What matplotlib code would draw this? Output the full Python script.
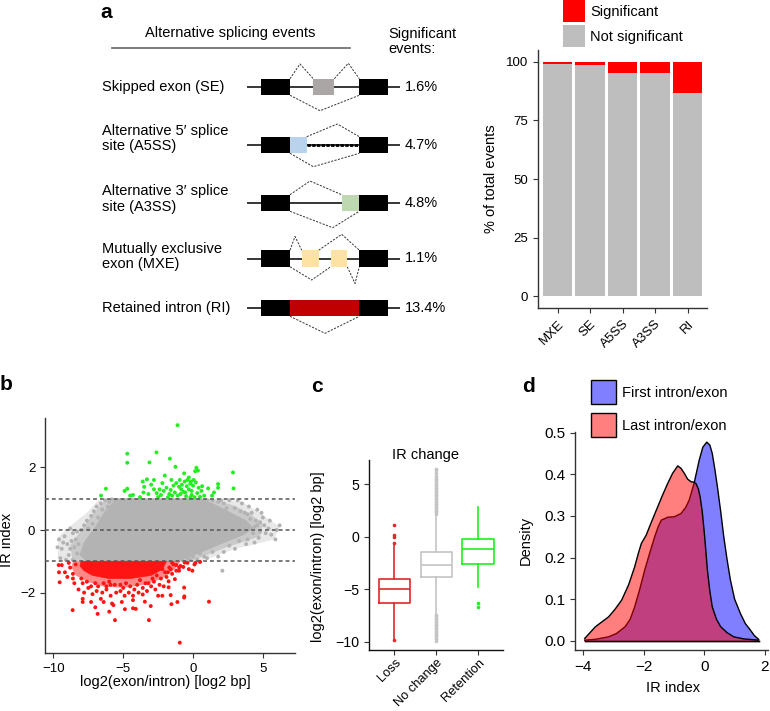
import matplotlib
matplotlib.use('Agg')
import matplotlib.pyplot as plt
from matplotlib.patches import Rectangle, Patch, Polygon
import numpy as np

plt.rcParams['font.family'] = ['Liberation Sans', 'DejaVu Sans']
plt.rcParams['axes.linewidth'] = 1.0

# ---------------- DATA ----------------
# Panel a (schematic + bar chart)
event_labels = ['Skipped exon (SE)', 'Alternative 5\u2032 splice\nsite (A5SS)',
                'Alternative 3\u2032 splice\nsite (A3SS)', 'Mutually exclusive\nexon (MXE)',
                'Retained intron (RI)']
event_pct_labels = ['1.6%', '4.7%', '4.8%', '1.1%', '13.4%']

bar_categories = ['MXE', 'SE', 'A5SS', 'A3SS', 'RI']
significant_pct = [1.1, 1.6, 4.7, 4.8, 13.4]
not_significant_pct = [98.9, 98.4, 95.3, 95.2, 86.6]
bar_yticks = [0, 25, 50, 75, 100]

# Panel b scatter (IR index vs log2 exon/intron): dense cloud outlines + individual points
gray_outer_x = [-9.7, -9.6, -8.6, -7.6, -6.8, -6.0, 1.8, 3.5, 4.6, 5.6, 6.2, 5.8, 4.5, 3.0, 1.5, 0.5, -9.0]
gray_outer_y = [-0.9, -0.2, 0.2, 0.55, 0.95, 1.0, 1.0, 0.9, 0.6, 0.3, 0.1, -0.3, -0.45, -0.6, -0.85, -1.0, -1.0]
gray_mid_x = [-8.6, -8.8, -8.0, -7.2, -6.4, -5.9, 1.2, 2.8, 4.0, 5.0, 4.8, 3.8, 2.4, 1.0, -0.2]
gray_mid_y = [-1.0, -0.5, 0.0, 0.5, 0.9, 1.0, 1.0, 0.8, 0.55, 0.2, -0.2, -0.35, -0.55, -0.8, -1.0]
gray_core_x = [-7.6, -1.1, 0.6, 2.2, 3.6, 4.3, 3.8, 2.9, 1.6, 0.6, -5.5, -6.3, -7.0, -7.8, -8.1]
gray_core_y = [-1.0, -1.0, -0.7, -0.4, -0.15, 0.05, 0.3, 0.5, 0.8, 1.0, 1.0, 0.6, 0.1, -0.4, -0.8]
gray_x = [-7.6, -7.3, -7.1, -6.9, -6.6, -6.3, -6.0, -5.8, -6.5, -6.8, -7.2, -7.8, -8.0, -7.5, -6.1, -5.9,
          -9.6, -9.4, -9.2, -9.0, -8.9, -8.8, -8.6, -8.4, -8.3, -8.5, -8.7, -9.7, -9.5, -9.1, -8.6, -8.3, -9.3, -8.2, -8.8,
          4.3, 4.5, 4.6, 4.8, 5.0, 5.2, 5.4, 5.6, 6.2, 5.9, 4.2, 4.0, 4.4, 3.8, 4.6, 4.9, 3.9, 5.1, 5.5, 6.0, 4.7,
          4.1, 4.4, 3.9, 4.8,
          1.0, 1.4, 1.8, 2.2, 2.6, 3.2, 3.5, 2.4, 3.0, 3.4, 2.0, 3.7,
          -0.8, -0.4, 0.0, 0.3, 0.8, 1.0, 1.4, 1.8, 2.2, 2.6, 3.0, 3.3, 1.2, 0.5, -0.2, 2.1]
gray_y = [0.3, 0.45, 0.6, 0.75, 0.85, 0.95, 0.9, 0.98, 0.65, 0.4, 0.2, 0.15, 0.0, 0.05, 0.75, 0.6,
          -0.3, -0.6, -0.2, -0.45, -0.8, 0.05, -0.1, -0.3, -0.05, -0.55, -0.35, -0.55, -0.9, -0.95, -0.95, -0.75, -0.4, -0.45, -0.6,
          -0.1, 0.3, 0.15, -0.05, 0.4, -0.1, 0.05, -0.15, 0.15, -0.3, 0.55, 0.75, -0.4, -0.45, 0.65, 0.55, -0.3, 0.15, 0.3, 0.0, -0.25,
          0.35, 0.1, 0.5, 0.25,
          0.95, 0.95, 0.9, 0.85, 0.95, 0.95, 0.85, 0.7, 0.7, 0.6, 0.95, 0.55,
          -0.95, -0.9, -0.85, -0.95, -0.85, -0.9, -0.7, -0.85, -0.7, -0.5, -0.6, -0.35, -0.55, -0.75, -0.95, -1.3]

red_mid_x = [-8.6, -0.9, -1.3, -2.2, -3.5, -5.0, -6.5, -7.6, -8.4, -8.7]
red_mid_y = [-1.0, -1.0, -1.25, -1.55, -1.75, -1.85, -1.8, -1.65, -1.45, -1.2]
red_core_x = [-8.0, -1.9, -2.2, -3.0, -4.5, -6.0, -7.2, -7.8, -8.1]
red_core_y = [-1.0, -1.0, -1.25, -1.45, -1.55, -1.55, -1.45, -1.3, -1.15]
red_x = [-9.62, -9.4, -9.6, -9.55, -8.62, -9.17, -6.83, -7.0, -6.0, -5.59, -4.88, -4.3, -4.1, -3.16, -3.03, -3.45,
         -1.55, -1.12, -0.64, -0.64, -1.3, -0.95, 1.14, -0.05, 0.17, -0.6, -0.7, -7.9, -7.9, -7.3, -6.6, -6.4,
         -5.7, -5.8, -5.1, -4.3, -4.3, -3.6, -2.5, -2.2, -1.6, -0.62, -1.75, -1.75,
         -8.5, -8.2, -7.8, -7.5, -7.2, -6.9, -6.5, -6.2, -5.9, -5.5, -5.2, -4.9, -4.6, -4.2, -3.9, -3.6, -3.3,
         -3.0, -2.7, -2.4, -2.1, -1.9, -1.5, -1.2, -1.0, -2.0, -2.8, -8.8, -9.0, -8.9, -8.6, -8.4, -7.9, -1.4,
         -1.7, -6.8, -5.6, -4.5, -3.2, -2.6,
         -8.6, -8.0, -7.6, -7.0, -6.4, -5.9, -5.2, -4.8, -4.0, -3.4, -2.9, -2.3, -1.8, -1.5, -1.2, -0.9, -0.4,
         0.1, 0.5, -1.0, -1.6, -2.2, -0.3, -6.2, -5.0, -3.8, -6.0, -7.3]
red_y = [-1.12, -1.12, -1.35, -1.67, -2.56, -1.35, -2.68, -2.47, -2.61, -2.88, -2.53, -2.5, -2.52, -2.88, -2.43, -2.29,
         -2.37, -2.30, -2.16, -1.84, -1.57, -3.6, -2.29, -1.30, -1.05, -1.04, -1.18, -2.2, -2.3, -2.3, -2.2, -2.3,
         -2.4, -2.35, -2.3, -2.1, -2.24, -2.06, -2.1, -2.1, -2.08, -2.12, -1.64, -1.83,
         -1.7, -1.9, -2.0, -1.85, -2.05, -1.95, -2.0, -1.9, -2.1, -2.0, -1.95, -2.1, -2.0, -1.9, -2.0, -1.85, -1.95,
         -1.8, -1.9, -1.75, -1.8, -1.5, -1.4, -1.3, -1.2, -1.35, -1.65, -1.2, -1.5, -1.05, -1.4, -1.1, -1.7, -1.1,
         -1.2, -1.8, -1.75, -1.8, -1.7, -1.45,
         -1.55, -1.55, -1.65, -1.7, -1.7, -1.75, -1.75, -1.7, -1.75, -1.7, -1.55, -1.55, -1.35, -1.05, -1.12, -1.15, -1.05,
         -1.1, -1.02, -1.3, -1.25, -1.25, -1.25, -1.8, -1.85, -1.6, -1.65, -1.8]

green_x = [-1.11, -4.71, -4.71, -2.62, -1.66, -3.12, -1.26, 0.24, 0.35, 0.15, 2.86, 2.9, -6.24, -4.71, -6.59, -2.02, -0.64,
           -3.6, -3.3, -3.5, -3.0, -2.8, -3.55, -3.2, -2.6, -2.3, -2.1, -1.9, -1.6, -1.4, -1.2, -1.0, -0.8, -0.6,
           -0.4, -0.2, 0.0, 0.2, 0.4, -0.3, -0.7, -0.9, -1.1, -0.5, -0.1, 0.3, 0.6, 0.8, 1.08, 1.36, 1.79, 1.79,
           1.5, -4.5, -4.3, -2.5, -1.8, -1.5, -0.2, 0.1, 0.5, -1.3, -0.1, -0.45, -0.85, -1.55, -2.2, -2.8, -0.3,
           -0.15, 0.05, -0.55, -1.7, -2.4, -3.8, -0.95, 0.65, -4.9]
green_y = [3.35, 2.44, 2.15, 2.48, 2.28, 2.16, 2.02, 1.99, 1.9, 1.88, 1.84, 1.33, 1.32, 1.32, 1.10, 1.74, 1.81,
           1.55, 1.62, 1.38, 1.45, 1.3, 1.2, 1.15, 1.18, 1.12, 1.25, 1.35, 1.28, 1.42, 1.5, 1.38, 1.45, 1.55,
           1.6, 1.48, 1.42, 1.52, 1.35, 1.3, 1.22, 1.15, 1.1, 1.08, 1.12, 1.18, 1.25, 1.1, 1.33, 1.1, 1.47, 1.35,
           1.2, 1.1, 1.12, 1.05, 1.05, 1.1, 1.04, 1.05, 1.06, 1.2, 1.25, 1.4, 1.3, 1.6, 1.5, 1.6, 1.68,
           1.55, 1.6, 1.2, 1.15, 1.3, 1.05, 1.6, 1.4, 1.25]
ir_thresholds = [-1, 0, 1]

# Panel c boxplot stats
box_groups = ['Loss', 'No change', 'Retention']
box_q1 = [-6.3, -3.84, -2.64]
box_med = [-5.0, -2.67, -1.2]
box_q3 = [-4.05, -1.45, -0.22]
box_whislo = [-9.8, -7.36, -4.78]
box_whishi = [-0.7, 2.1, 2.86]
loss_fliers = [1.1, 0.12, -0.07, -0.6, -9.85]
nochange_fliers = [2.15, 2.3, 2.42, 2.57, 2.7, 2.86, 2.98, 3.12, 3.27, 3.4, 3.55, 3.68, 3.83, 3.95, 4.1, 4.24,
                   4.37, 4.5, 4.66, 4.8, 4.93, 5.05, 5.2, 5.35, 5.48, 5.6, 5.82, 6.05, 6.3, 6.45,
                   -7.45, -7.6, -7.72, -7.88, -8.0, -8.15, -8.3, -8.42, -8.55, -8.7, -8.83, -8.97, -9.1, -9.25,
                   -9.38, -9.5, -9.65, -9.78, -9.9]
retention_fliers = [-6.32, -6.73]

# Panel d density curves
first_x = [-3.95, -3.6, -3.16, -2.9, -2.62, -2.45, -2.30, -2.13, -1.97, -1.80, -1.64, -1.52, -1.42, -1.2, -0.99,
           -0.77, -0.62, -0.5, -0.34, -0.17, -0.05, 0.08, 0.18, 0.26, 0.35, 0.43, 0.54, 0.64, 0.75, 0.86, 1.0,
           1.19, 1.35, 1.52, 1.65, 1.79]
first_y = [0.002, 0.004, 0.010, 0.018, 0.034, 0.052, 0.082, 0.125, 0.17, 0.212, 0.25, 0.275, 0.29, 0.297, 0.298,
           0.306, 0.32, 0.338, 0.378, 0.434, 0.465, 0.477, 0.47, 0.45, 0.41, 0.37, 0.31, 0.25, 0.195, 0.146, 0.10,
           0.066, 0.042, 0.026, 0.013, 0.004]
last_x = [-3.95, -3.8, -3.6, -3.38, -3.16, -2.95, -2.73, -2.5, -2.30, -2.18, -2.08, -1.92, -1.75, -1.54, -1.38,
          -1.21, -1.05, -0.88, -0.77, -0.66, -0.55, -0.44, -0.35, -0.28, -0.2, -0.14, -0.07, -0.01, 0.05, 0.1,
          0.18, 0.26, 0.4, 0.54, 0.75, 0.97, 1.3, 1.79]
last_y = [0.006, 0.018, 0.034, 0.046, 0.058, 0.076, 0.098, 0.135, 0.178, 0.21, 0.234, 0.254, 0.285, 0.322, 0.35,
          0.378, 0.402, 0.42, 0.414, 0.402, 0.388, 0.382, 0.381, 0.378, 0.365, 0.346, 0.31, 0.266, 0.215, 0.17,
          0.12, 0.082, 0.052, 0.034, 0.02, 0.010, 0.005, 0.002]

# ---------------- FIGURE ----------------
W, H = 770, 711
fig = plt.figure(figsize=(W / 100, H / 100), dpi=100)


def rect(left, top, right, bottom):
    return [left / W, 1 - bottom / H, (right - left) / W, (bottom - top) / H]


TICK = 9.5
LAB = 10.5

# ---- Panel a schematic ----
axd = fig.add_axes([0, 1 - 340 / H, 430 / W, 340 / H])
axd.set_xlim(0, 430)
axd.set_ylim(340, 0)
axd.axis('off')

row_y = [87, 145, 203, 258.5, 308]
label_y = [87, 138.5, 199, 256.5, 308]
alt_exons = [[(313.3, 334.3, '#aba6a6')],
             [(290, 307.3, '#b9d3ec')],
             [(341.7, 359.3, '#bed9b2')],
             [(301.7, 318.7, '#fde3a3'), (330.7, 347.3, '#fde3a3')],
             [(290, 359.3, '#c00000')]]
connectors = [
    [([290, 300, 313.3], [-8.3, -23, -8.3]), ([334.3, 348.3, 359.3], [-8.3, -23.7, -8.3]),
     ([290, 320, 359.3], [8.3, 23.7, 8.3])],
    [([306.7, 337.3, 359.3], [-8.3, -21, -8.3]), ([290, 313.3, 359.3], [8.3, 21.7, 8.3])],
    [([290, 310, 341.7], [-8.3, -22, -8.3]), ([290, 332.7, 359.3], [8.3, 24.7, 8.3])],
    [([290, 295, 301.7], [-8.3, -22, -8.3]), ([318.7, 341.7, 359.3], [-8.3, -24.2, -8.3]),
     ([290, 311.7, 330.7], [8.3, 21.5, 8.3]), ([347.3, 355, 359.3], [8.3, 25, 8.3])],
    [([290, 325, 359.3], [8.3, 25.3, 8.3])],
]
for i in range(5):
    y = row_y[i]
    axd.text(102, label_y[i], event_labels[i], ha='left', va='center', fontsize=LAB, linespacing=1.12)
    axd.plot([247, 400], [y, y], color='black', lw=1.1, zorder=1, solid_capstyle='butt')
    for (a, b) in [(261, 290), (359.3, 388.3)]:
        axd.add_patch(Rectangle((a, y - 8.3), b - a, 16.6, facecolor='black', edgecolor='none', zorder=3))
    for (a, b, c) in alt_exons[i]:
        axd.add_patch(Rectangle((a, y - 8.3), b - a, 16.6, facecolor=c, edgecolor='none', zorder=3))
    for (xs, dys) in connectors[i]:
        axd.plot(xs, [y + d for d in dys], color='#333333', lw=0.7, ls=(0, (2.2, 1.4)), zorder=2)
    axd.text(405, y, event_pct_labels[i], ha='left', va='center', fontsize=LAB)
# dotted intron in A5SS
axd.plot([307.3, 359.3], [row_y[1], row_y[1]], color='black', lw=2.0, ls=(0, (1.2, 0.5)), zorder=2)

axd.text(230, 33, 'Alternative splicing events', ha='center', va='center', fontsize=LAB)
axd.plot([112, 350], [47.7, 47.7], color='#666666', lw=1.2)
axd.text(388, 41.5, 'Significant\nevents:', ha='left', va='center', fontsize=LAB, linespacing=1.15)

# panel letters
for (lx, ly, t) in [(100, 12, 'a'), (0, 385, 'b'), (311, 387, 'c'), (522, 387, 'd')]:
    fig.text(lx / W, 1 - ly / H, t, fontsize=15, fontweight='bold', ha='left', va='center')

# ---- Panel a bar chart ----
ax1 = fig.add_axes(rect(538, 50, 707, 308))
xb = np.arange(1, len(bar_categories) + 1)
ax1.bar(xb, not_significant_pct, width=0.9, color='#bebebe', label='Not significant')
ax1.bar(xb, significant_pct, bottom=not_significant_pct, width=0.9, color='#ff0000', label='Significant')
ax1.set_xlim(0.4, 5.6)
ax1.set_ylim(-5, 105)
ax1.set_xticks(xb)
ax1.set_xticklabels(bar_categories, rotation=45, ha='right', va='top', rotation_mode='anchor', fontsize=TICK)
ax1.set_yticks(bar_yticks)
ax1.tick_params(labelsize=TICK, length=3.5, color='#333333')
ax1.set_ylabel('% of total events', fontsize=LAB)
ax1.yaxis.set_label_coords(-0.234, 0.5)
for s in ['top', 'right']:
    ax1.spines[s].set_visible(False)
for s in ['left', 'bottom']:
    ax1.spines[s].set_color('#333333')
handles = [Patch(facecolor='#ff0000', edgecolor='none'), Patch(facecolor='#bebebe', edgecolor='none')]
fig.legend(handles, ['Significant', 'Not significant'], loc='upper left',
           bbox_to_anchor=(563 / W, 1.0), frameon=False, fontsize=LAB,
           handlelength=1.5, handleheight=1.945, labelspacing=0.2, handletextpad=0.35,
           borderpad=0, borderaxespad=0)

# ---- Panel b scatter ----
ax2 = fig.add_axes(rect(45, 418, 295, 653))
gcol = '#b3b3b3'
rcol = '#ff1414'
ax2.add_patch(Polygon(list(zip(gray_outer_x, gray_outer_y)), closed=True, facecolor=gcol, edgecolor='none', alpha=0.3, zorder=1))
ax2.add_patch(Polygon(list(zip(gray_mid_x, gray_mid_y)), closed=True, facecolor=gcol, edgecolor='none', alpha=0.55, zorder=1))
ax2.add_patch(Polygon(list(zip(gray_core_x, gray_core_y)), closed=True, facecolor=gcol, edgecolor=gcol, lw=0.5, zorder=1))
ax2.scatter(gray_x, gray_y, s=8, color=gcol, edgecolors='none', zorder=1)
ax2.add_patch(Polygon(list(zip(red_mid_x, red_mid_y)), closed=True, facecolor=rcol, edgecolor='none', alpha=0.5, zorder=2))
ax2.add_patch(Polygon(list(zip(red_core_x, red_core_y)), closed=True, facecolor=rcol, edgecolor=rcol, lw=0.5, zorder=2))
ax2.scatter(red_x, red_y, s=8, color=rcol, edgecolors='none', zorder=2)
ax2.scatter(green_x, green_y, s=8, color='#22ee22', edgecolors='none', zorder=3)
for t in ir_thresholds:
    ax2.axhline(t, color='#555555', lw=1.1, ls=(0, (2.5, 2)), zorder=4)
ax2.set_xlim(-10.6, 7.3)
ax2.set_ylim(-3.93, 3.58)
ax2.set_xticks([-10, -5, 0, 5])
ax2.set_yticks([-2, 0, 2])
ax2.tick_params(labelsize=TICK, length=3.5, color='#333333')
ax2.set_ylabel('IR index', fontsize=LAB)
ax2.yaxis.set_label_coords(-0.124, 0.48)
ax2.set_xlabel('log2(exon/intron) [log2 bp]', fontsize=LAB)
ax2.xaxis.set_label_coords(0.48, -0.0915)
for s in ['top', 'right']:
    ax2.spines[s].set_visible(False)
for s in ['left', 'bottom']:
    ax2.spines[s].set_color('#333333')

# ---- Panel c boxplot ----
TICK_C = 10.2
ax3 = fig.add_axes(rect(369.3, 460, 503.3, 650))
box_colors = ['#e02828', '#c4c4c4', '#22ee22']
fliers_all = [loss_fliers, nochange_fliers, retention_fliers]
for i in range(3):
    c = box_colors[i]
    st = dict(med=box_med[i], q1=box_q1[i], q3=box_q3[i], whislo=box_whislo[i],
              whishi=box_whishi[i], fliers=fliers_all[i], label=box_groups[i])
    ax3.bxp([st], positions=[i + 1], widths=0.75, showfliers=True,
            boxprops=dict(color=c, lw=1.2), medianprops=dict(color=c, lw=1.2),
            whiskerprops=dict(color=c, lw=1.2),
            flierprops=dict(marker='o', markersize=2.6, markerfacecolor=c, markeredgecolor='none'),
            showcaps=False)
ax3.set_xlim(0.4, 3.6)
ax3.set_ylim(-10.8, 7.3)
ax3.set_xticks([1, 2, 3])
ax3.set_xticklabels(box_groups, rotation=45, ha='right', va='top', rotation_mode='anchor', fontsize=9.3)
ax3.set_yticks([-10, -5, 0, 5])
ax3.tick_params(axis='y', labelsize=TICK_C, length=3.5, color='#333333')
ax3.tick_params(axis='x', length=3.5, color='#333333', pad=1.2)
ax3.set_ylabel('log2(exon/intron) [log2 bp]', fontsize=LAB)
ax3.yaxis.set_label_coords(-0.33, 0.49)
ax3.text(0.416, 1.026, 'IR change', transform=ax3.transAxes, ha='center', va='center', fontsize=LAB)
for s in ['top', 'right']:
    ax3.spines[s].set_visible(False)
for s in ['left', 'bottom']:
    ax3.spines[s].set_color('#111111')

# ---- Panel d density ----
TICK_D = 11
ax4 = fig.add_axes(rect(575, 431.7, 768, 650))
blue_fc = (0, 0, 1, 0.5)
red_fc = (1, 0, 0, 0.5)
ax4.fill(first_x + [first_x[-1], first_x[0]], first_y + [0, 0], facecolor=blue_fc, edgecolor='none', zorder=1)
ax4.plot(first_x, first_y, color='black', lw=1.0, zorder=2)
ax4.plot([first_x[0], first_x[-1]], [0, 0], color='black', lw=1.0, zorder=2)
ax4.fill(last_x + [last_x[-1], last_x[0]], last_y + [0, 0], facecolor=red_fc, edgecolor='none', zorder=3)
ax4.plot(last_x, last_y, color='black', lw=1.0, zorder=4)
ax4.plot([last_x[0], last_x[-1]], [0, 0], color='black', lw=1.0, zorder=4)
ax4.set_xlim(-4.27, 2.1)
ax4.set_ylim(-0.0216, 0.502)
ax4.set_xticks([-4, -2, 0, 2])
ax4.set_yticks([0, 0.1, 0.2, 0.3, 0.4, 0.5])
ax4.set_yticklabels(['0.0', '0.1', '0.2', '0.3', '0.4', '0.5'])
ax4.tick_params(labelsize=TICK_D, length=3.5, color='#333333')
ax4.set_ylabel('Density', fontsize=LAB)
ax4.yaxis.set_label_coords(-0.22, 0.504)
ax4.set_xlabel('IR index', fontsize=LAB)
ax4.xaxis.set_label_coords(0.509, -0.142)
for s in ['top', 'right']:
    ax4.spines[s].set_visible(False)
for s in ['left', 'bottom']:
    ax4.spines[s].set_color('#333333')
dh = [Patch(facecolor=blue_fc, edgecolor='black', lw=1.0), Patch(facecolor=red_fc, edgecolor='black', lw=1.0)]
fig.legend(dh, ['First intron/exon', 'Last intron/exon'], loc='upper left',
           bbox_to_anchor=(591 / W, 1 - 380 / H), frameon=False, fontsize=LAB,
           handlelength=1.71, handleheight=2.155, labelspacing=0.62, handletextpad=0.45,
           borderpad=0, borderaxespad=0)

fig.savefig('out.png', dpi=100)
